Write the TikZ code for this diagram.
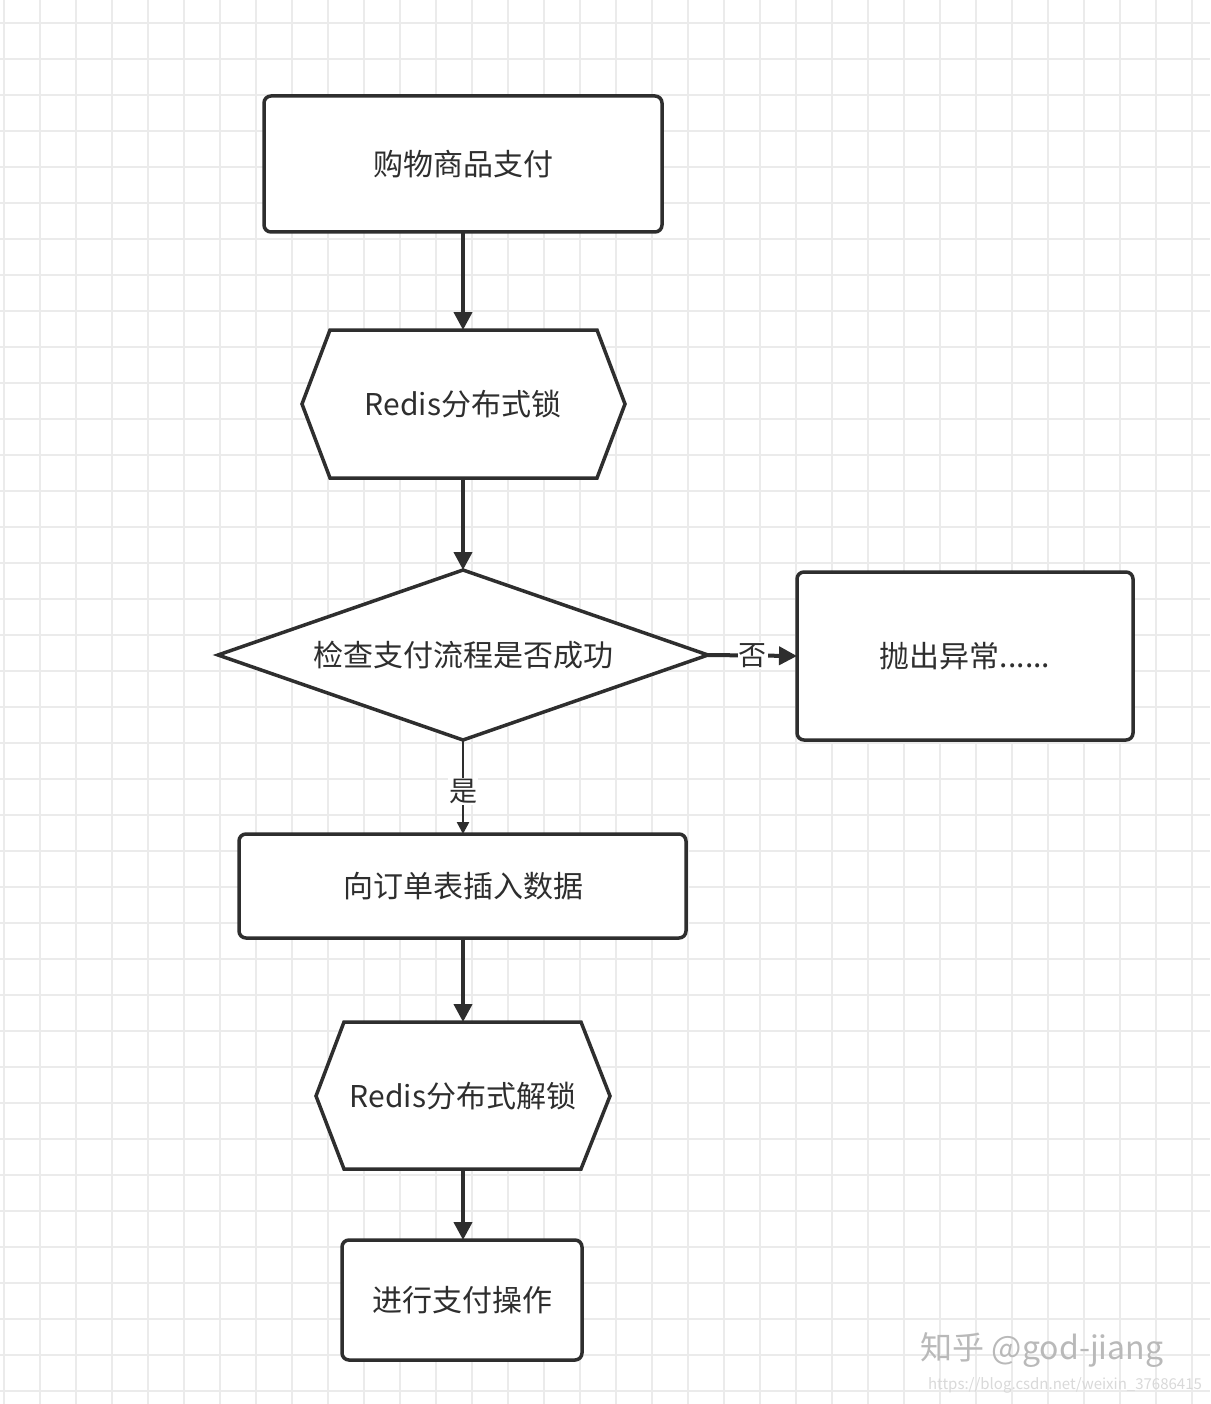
\documentclass[tikz,border=0pt]{standalone}
\usepackage{fontspec}
\setmainfont{Noto Sans CJK SC}
\usetikzlibrary{arrows.meta}
\definecolor{ln}{HTML}{2E2E2E}
\definecolor{gridc}{HTML}{EBEBEB}
\begin{document}
\begin{tikzpicture}[x=1pt,y=-1pt,
  box/.style={draw=ln,line width=3.5pt,rounded corners=7pt,fill=white},
  hex/.style={draw=ln,line width=3.5pt,fill=white,line join=miter},
  arr/.style={draw=ln,line width=4pt,-{Triangle[length=18pt,width=18pt]}},
  txt/.style={font=\fontsize{30}{33}\selectfont,text=ln}]
\useasboundingbox (0,0) rectangle (1210,1404);
\fill[white] (0,0) rectangle (1210,1404);
\foreach \x in {4,40,...,1210} \draw[gridc,line width=2pt] (\x,0) -- (\x,1404);
\foreach \y in {23,59,...,1404} \draw[gridc,line width=2pt] (0,\y) -- (1210,\y);
% shapes
\draw[box] (264,96) rectangle (662,232);
\node[txt] (n1) at (463,164) {购物商品支付};
\coordinate (n1s) at (463,232);
\draw[hex] (330,330) -- (597,330) -- (625,404) -- (597,478) -- (330,478) -- (302,404) -- cycle;
\node[txt] (n2) at (463,404) {Redis分布式锁};
\coordinate (n2n) at (463,330); \coordinate (n2s) at (463,478);
\draw[hex] (463,570) -- (708,655) -- (463,740) -- (218,655) -- cycle;
\node[txt] (n3) at (463,655) {检查支付流程是否成功};
\coordinate (n3n) at (463,570); \coordinate (n3s) at (463,740); \coordinate (n3e) at (708,655);
\draw[box] (797,572) rectangle (1133,740);
\node[txt] (n4) at (965,656) {抛出异常......};
\coordinate (n4w) at (797,656);
\draw[box] (239,834) rectangle (686,938);
\node[txt] (n5) at (463,886) {向订单表插入数据};
\coordinate (n5n) at (463,834); \coordinate (n5s) at (463,938);
\draw[hex] (344,1022) -- (581,1022) -- (610,1096) -- (581,1169) -- (344,1169) -- (316,1096) -- cycle;
\node[txt] (n6) at (463,1096) {Redis分布式解锁};
\coordinate (n6n) at (463,1022); \coordinate (n6s) at (463,1169);
\draw[box] (342,1240) rectangle (582,1360);
\node[txt] (n7) at (462,1300) {进行支付操作};
\coordinate (n7n) at (463,1240);
% arrows
\draw[arr] (n1s) -- (n2n);
\draw[arr] (n2s) -- (n3n);
\draw[arr] (n3e) -- (n4w) node[pos=0.5,fill=white,inner sep=1pt,txt,font=\fontsize{28}{30}\selectfont] {否};
\draw[arr,line width=2.5pt,-{Triangle[length=12pt,width=12pt]}] (n3s) -- (n5n) node[pos=0.55,fill=white,inner sep=1pt,txt,font=\fontsize{28}{30}\selectfont] {是};
\draw[arr] (n5s) -- (n6n);
\draw[arr] (n6s) -- (n7n);
\node[text=gray!55,font=\fontsize{32}{34}\selectfont] (wm) at (1042,1350) {知乎 @god-jiang};
\node[text=gray!30,font=\fontsize{15}{16}\selectfont] (url) at (1065,1385) {https://blog.csdn.net/weixin\_37686415};
\end{tikzpicture}
\end{document}
